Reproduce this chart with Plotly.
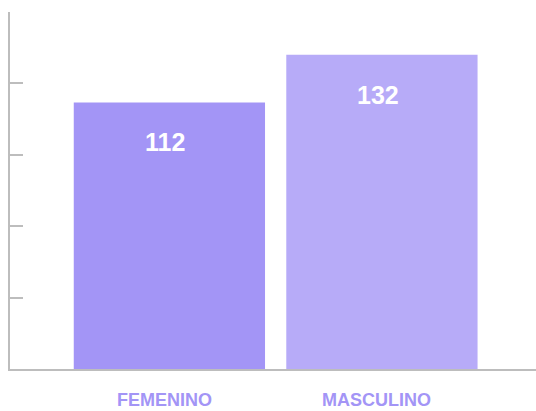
import plotly.graph_objects as go

categories = ["FEMENINO", "MASCULINO"]
values = [112, 132]
bar_colors = ["#A395F6", "#B7ABF8"]
y_ticks = [0, 30, 60, 90, 120, 150]

axis_grey = "#BDBDBD"
label_color = "#A395F6"
font_family = "Liberation Sans, Arial, sans-serif"

fig = go.Figure()

fig.add_trace(go.Bar(
    x=categories,
    y=values,
    width=0.9,
    marker=dict(color=bar_colors, line=dict(width=0)),
    hoverinfo="skip",
    showlegend=False,
))

for cat, val in zip(categories, values):
    # value label inside the top of the bar
    fig.add_annotation(
        x=cat,
        y=val,
        text=f"<b>{val}</b>",
        showarrow=False,
        yanchor="top",
        yshift=-24,
        xshift=-4,
        font=dict(family=font_family, size=25, color="white"),
    )
    # category label under the axis
    fig.add_annotation(
        x=cat,
        y=0,
        text=f"<b>{cat}</b>",
        showarrow=False,
        yanchor="middle",
        yshift=-31,
        xshift=-5,
        font=dict(family=font_family, size=18, color=label_color),
    )

fig.update_layout(
    width=536,
    height=411,
    margin=dict(l=10, r=0, t=12, b=42, pad=0),
    paper_bgcolor="white",
    plot_bgcolor="white",
    xaxis=dict(
        type="category",
        range=[-0.75, 1.725],
        automargin=False,
        showline=True,
        linecolor=axis_grey,
        linewidth=2,
        ticks="",
        showticklabels=False,
        showgrid=False,
    ),
    yaxis=dict(
        range=[0, 150],
        automargin=False,
        tickvals=y_ticks,
        showticklabels=False,
        ticks="inside",
        ticklen=13,
        tickwidth=2,
        tickcolor=axis_grey,
        showline=True,
        linecolor=axis_grey,
        linewidth=2,
        showgrid=False,
        zeroline=False,
    ),
)

# drop the default page margin so the figure sits at the window's corner
fig.write_html(
    "out.html",
    config={"displayModeBar": False},
    post_script="document.body.style.margin='0';",
)
